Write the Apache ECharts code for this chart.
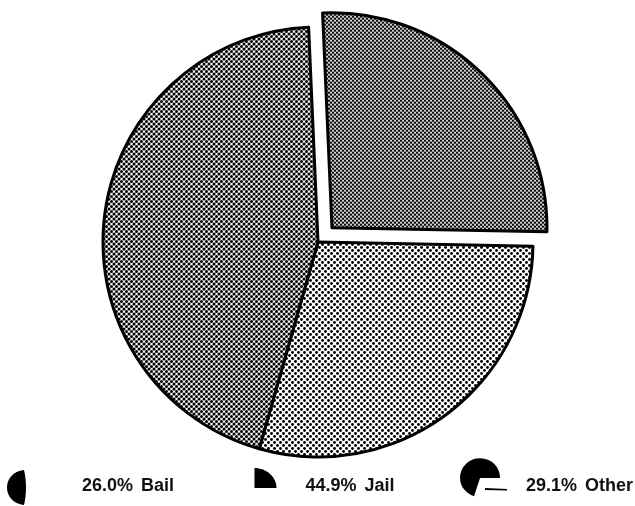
<!DOCTYPE html>
<html>
<head>
<meta charset="utf-8">
<script src="https://cdn.jsdelivr.net/npm/echarts@6/dist/echarts.min.js"></script>
<style>
  html, body { margin: 0; padding: 0; background: #fff; }
  #chart { width: 635px; height: 506px; }
</style>
</head>
<body>
<div id="chart"></div>
<script>
// Legend order and the share of cases for each outcome (percent)
const categories = ['Bail', 'Jail', 'Other'];
const shares = [26.0, 44.9, 29.1];
// Order of the slices going clockwise from the top
const sliceOrder = ['Bail', 'Other', 'Jail'];
const pulledOut = 'Bail';

// Small repeating dot screens used as slice fills
function dotScreen(size, radius, centers) {
  const c = document.createElement('canvas');
  c.width = size; c.height = size;
  const ctx = c.getContext('2d');
  ctx.fillStyle = '#fff';
  ctx.fillRect(0, 0, size, size);
  ctx.fillStyle = '#000';
  centers.forEach(([x, y]) => {
    for (let dx = -size; dx <= size; dx += size) {
      for (let dy = -size; dy <= size; dy += size) {
        ctx.beginPath();
        ctx.arc(x + dx, y + dy, radius, 0, Math.PI * 2);
        ctx.fill();
      }
    }
  });
  return { image: c, repeat: 'repeat' };
}

const fills = {
  Bail: dotScreen(4, 1.2, [[1, 1], [3, 3]]),
  Jail: dotScreen(5, 1.5, [[1.5, 1.5], [4, 4]]),
  Other: dotScreen(6, 1.45, [[1.5, 1.5], [4.5, 4.5]])
};

// Legend glyphs; the leading moves fix a common 70x60 box
const glyphs = {
  Bail: 'path://M0,0 M70,60 M17,14 C6,15 0,23 0,31.5 C0,40 6,48 17,49 C18.5,43 19,37 19,31.5 C19,26 18.5,20 17,14 Z',
  Jail: 'path://M0,0 M70,60 M24,12 C36,12 46,21 46,32 L24,32 Z',
  Other: 'path://M0,0 M70,60 M29,22 L49,22 A20,19.5 0 1 0 23,40.3 Z M34,32 L56,33 L56,34.6 L34,34 Z'
};

const fontStack = "'Liberation Sans', Arial, sans-serif";
const legendText = {
  fontFamily: fontStack,
  fontSize: 18,
  fontWeight: 'bold',
  color: '#111'
};

const chart = echarts.init(document.getElementById('chart'), null, { renderer: 'canvas' });

chart.setOption({
  animation: false,
  backgroundColor: '#fff',
  legend: {
    orient: 'horizontal',
    left: 7,
    top: 456,
    width: 720,
    padding: 0,
    itemGap: 56.5,
    itemWidth: 70,
    itemHeight: 60,
    selectedMode: false,
    itemStyle: { color: '#000', borderWidth: 0 },
    data: categories.map(name => ({ name, icon: glyphs[name] })),
    formatter: name => {
      const v = shares[categories.indexOf(name)];
      return '{p|' + v.toFixed(1) + '%}{n|' + name + '}';
    },
    textStyle: {
      rich: {
        p: Object.assign({ width: 50 }, legendText),
        n: Object.assign({ width: 47, padding: [0, 0, 0, 9] }, legendText)
      }
    }
  },
  series: [{
    type: 'pie',
    center: [318, 242],
    radius: 215,
    startAngle: 92.5,
    clockwise: true,
    selectedMode: 'single',
    selectedOffset: 20,
    silent: true,
    label: { show: false },
    labelLine: { show: false },
    emphasis: { disabled: true },
    itemStyle: { borderColor: '#000', borderWidth: 3 },
    data: sliceOrder.map(name => ({
      name,
      value: shares[categories.indexOf(name)],
      selected: name === pulledOut,
      itemStyle: { color: fills[name] }
    }))
  }]
});
</script>
</body>
</html>
